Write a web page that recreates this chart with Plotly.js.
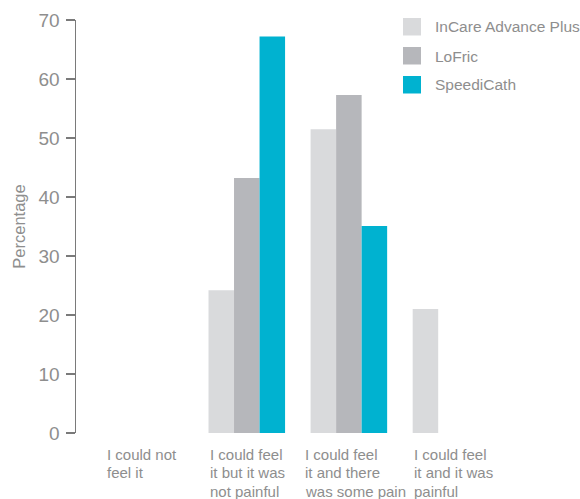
<!DOCTYPE html>
<html>
<head>
<meta charset="utf-8">
<script src="https://cdn.plot.ly/plotly-3.0.1.min.js"></script>
<style>
  html, body { margin: 0; padding: 0; background: #fff; }
  #chart { width: 580px; height: 499px; }
</style>
</head>
<body>
<div id="chart"></div>
<script>
// ---- data ----
var categories = [
  "I could not<br>feel it",
  "I could feel<br>it but it was<br>not painful",
  "I could feel<br>it and there<br>was some pain",
  "I could feel<br>it and it was<br>painful"
];
var seriesNames = ["InCare Advance Plus", "LoFric", "SpeediCath"];
var incareValues = [null, 24.2, 51.5, 21.0];
var lofricValues = [null, 43.2, 57.3, null];
var speedicathValues = [null, 67.2, 35.1, null];
var seriesColors = ["#d9dadc", "#b6b7bb", "#00b2d0"];
var yTickValues = [0, 10, 20, 30, 40, 50, 60, 70];

// ---- layout geometry ----
var W = 580, H = 499;
var M = {l: 76, r: 78, t: 20, b: 66};
var plotW = W - M.l - M.r, plotH = H - M.t - M.b;
function px2paperX(px) { return (px - M.l) / plotW; }
function px2paperY(py) { return (H - M.b - py) / plotH; }

var textColor = "#8e8e8e";
var font = "'Liberation Sans', Arial, Helvetica, sans-serif";

var idx = categories.map(function (c, i) { return i; });
var seriesValues = [incareValues, lofricValues, speedicathValues];

var traces = seriesValues.map(function (vals, s) {
  return {
    type: "bar",
    name: seriesNames[s],
    x: idx,
    y: vals,
    marker: {color: seriesColors[s], line: {width: 0}},
    hoverinfo: "skip"
  };
});

// category labels, left aligned near group start, one annotation per line
var labelXShift = [0, 0, -7, 0];
var lineStep = 18.3;
var annotations = [];
categories.forEach(function (c, i) {
  c.split("<br>").forEach(function (line, k) {
    annotations.push({
      x: i - 0.375, xref: "x", xanchor: "left", xshift: labelXShift[i],
      y: 0, yref: "paper", yanchor: "top", yshift: -12 - lineStep * k,
      text: line, showarrow: false, align: "left", borderpad: 0,
      font: {family: font, size: 15, color: textColor}
    });
  });
});

// custom legend
var shapes = [];
var legendTop = [18, 47, 76];
seriesNames.forEach(function (n, s) {
  var top = legendTop[s];
  shapes.push({
    type: "rect", xref: "paper", yref: "paper",
    x0: px2paperX(403), x1: px2paperX(421),
    y0: px2paperY(top + 17.5), y1: px2paperY(top),
    fillcolor: seriesColors[s], line: {width: 0}
  });
  annotations.push({
    xref: "paper", yref: "paper",
    x: px2paperX(434), xanchor: "left",
    y: px2paperY(top + 9), yanchor: "middle",
    text: n, showarrow: false, borderpad: 0,
    font: {family: font, size: 15.5, color: textColor}
  });
});

var layout = {
  width: W, height: H,
  margin: M,
  paper_bgcolor: "#fff", plot_bgcolor: "#fff",
  showlegend: false,
  barmode: "group",
  bargap: 0.25, bargroupgap: 0,
  font: {family: font, color: textColor},
  xaxis: {
    range: [-0.673, 3.5],
    showticklabels: false, ticks: "", showgrid: false,
    zeroline: false, showline: false, fixedrange: true
  },
  yaxis: {
    range: [0, 70],
    tickvals: yTickValues,
    ticks: "outside", ticklen: 9, tickwidth: 1.5, tickcolor: "#7a7a7a",
    showline: true, linecolor: "#7a7a7a", linewidth: 1.5,
    showgrid: false, zeroline: false,
    tickfont: {family: font, size: 19, color: textColor},
    ticklabelstandoff: 2,
    title: {text: "Percentage", font: {family: font, size: 16.5, color: textColor}, standoff: 9},
    automargin: false, fixedrange: true
  },
  shapes: shapes,
  annotations: annotations
};

Plotly.newPlot("chart", traces, layout, {displayModeBar: false, staticPlot: true});
</script>
</body>
</html>
